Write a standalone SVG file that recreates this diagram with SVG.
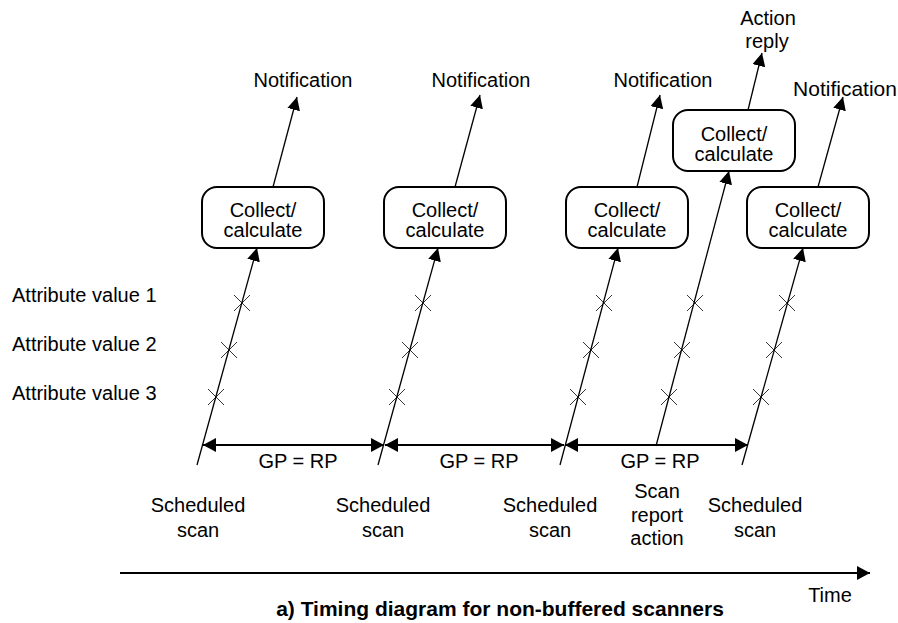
<svg xmlns="http://www.w3.org/2000/svg" width="898" height="623" viewBox="0 0 898 623">
<defs>
<marker id="ah" markerUnits="userSpaceOnUse" markerWidth="14" markerHeight="13" refX="13" refY="6.5" orient="auto-start-reverse" viewBox="0 0 14 13">
<path d="M0,0 L13,6.5 L0,13 z" fill="#000"/>
</marker>
<marker id="ahb" markerUnits="userSpaceOnUse" markerWidth="14" markerHeight="14" refX="13" refY="7" orient="auto-start-reverse" viewBox="0 0 14 14">
<path d="M0,0 L13,7 L0,14 z" fill="#000"/>
</marker>
</defs>
<style>
text{font-family:"Liberation Sans",Arial,sans-serif;font-size:20px;fill:#000}
.c{text-anchor:middle}
.t{font-weight:bold;font-size:21px}
.box{fill:#fff;stroke:#000;stroke-width:2}
.ln{stroke:#000;stroke-width:1.3;fill:none}
.arr{stroke:#000;stroke-width:1.3;fill:none;marker-end:url(#ah)}
.gp{stroke:#000;stroke-width:2.2;fill:none;marker-start:url(#ahb);marker-end:url(#ahb)}
.x{stroke:#000;stroke-width:0.8;fill:none}
</style>
<rect width="898" height="623" fill="#fff"/>
<g id="connectors">
<line class="arr" x1="197" y1="465" x2="257" y2="248"/>
<line class="arr" x1="378" y1="465" x2="438" y2="248"/>
<line class="arr" x1="560" y1="465" x2="618" y2="248"/>
<line class="arr" x1="656" y1="446" x2="729" y2="171"/>
<line class="arr" x1="742" y1="465" x2="803" y2="248"/>
<line class="arr" x1="273" y1="187" x2="297" y2="97"/>
<line class="arr" x1="455" y1="187" x2="480" y2="95"/>
<line class="arr" x1="637" y1="187" x2="660" y2="95"/>
<line class="arr" x1="748" y1="110" x2="762" y2="53"/>
<line class="arr" x1="818" y1="187" x2="843" y2="97"/>
<line class="gp" x1="203" y1="445" x2="384" y2="445"/>
<line class="gp" x1="385" y1="445" x2="564" y2="445"/>
<line class="gp" x1="565" y1="445" x2="748" y2="445"/>
<line stroke="#000" stroke-width="2.2" x1="120" y1="573" x2="870" y2="573" marker-end="url(#ahb)"/>
</g>
<g id="crosses">
<path class="x" d="M234,295 l16,16 M234,311 l16,-16 M221,342 l16,16 M221,358 l16,-16 M208,389 l16,16 M208,405 l16,-16"/>
<path class="x" d="M415,295 l16,16 M415,311 l16,-16 M402,342 l16,16 M402,358 l16,-16 M389,389 l16,16 M389,405 l16,-16"/>
<path class="x" d="M596,295 l16,16 M596,311 l16,-16 M583,342 l16,16 M583,358 l16,-16 M570,389 l16,16 M570,405 l16,-16"/>
<path class="x" d="M687,295 l16,16 M687,311 l16,-16 M674,342 l16,16 M674,358 l16,-16 M661,389 l16,16 M661,405 l16,-16"/>
<path class="x" d="M779,295 l16,16 M779,311 l16,-16 M766,342 l16,16 M766,358 l16,-16 M753,389 l16,16 M753,405 l16,-16"/>
</g>
<g id="box1"><rect class="box" x="202" y="187" width="122" height="61" rx="15"/><text class="c" x="263" y="217">Collect/</text><text class="c" x="263" y="237">calculate</text></g>
<g id="box2"><rect class="box" x="384" y="187" width="122" height="61" rx="15"/><text class="c" x="445" y="217">Collect/</text><text class="c" x="445" y="237">calculate</text></g>
<g id="box3"><rect class="box" x="566" y="187" width="122" height="61" rx="15"/><text class="c" x="627" y="217">Collect/</text><text class="c" x="627" y="237">calculate</text></g>
<g id="box4"><rect class="box" x="673" y="110" width="122" height="61" rx="15"/><text class="c" x="734" y="141">Collect/</text><text class="c" x="734" y="161">calculate</text></g>
<g id="box5"><rect class="box" x="747" y="187" width="122" height="61" rx="15"/><text class="c" x="808" y="217">Collect/</text><text class="c" x="808" y="237">calculate</text></g>
<g id="labels">
<text class="c" x="303" y="87">Notification</text>
<text class="c" x="481" y="87">Notification</text>
<text class="c" x="663" y="87">Notification</text>
<text class="c" x="845" y="96" style="font-size:21px">Notification</text>
<text class="c" x="768" y="25">Action</text>
<text class="c" x="767" y="48">reply</text>
<text x="12" y="302">Attribute value 1</text>
<text x="12" y="351">Attribute value 2</text>
<text x="12" y="400">Attribute value 3</text>
<text class="c" x="298" y="468">GP = RP</text>
<text class="c" x="479" y="468">GP = RP</text>
<text class="c" x="660" y="468">GP = RP</text>
<text class="c" x="198" y="512">Scheduled</text><text class="c" x="198" y="537">scan</text>
<text class="c" x="383" y="512">Scheduled</text><text class="c" x="383" y="537">scan</text>
<text class="c" x="550" y="512">Scheduled</text><text class="c" x="550" y="537">scan</text>
<text class="c" x="657" y="498">Scan</text><text class="c" x="657" y="522">report</text><text class="c" x="657" y="545">action</text>
<text class="c" x="755" y="512">Scheduled</text><text class="c" x="755" y="537">scan</text>
<text class="c" x="830" y="602">Time</text>
<text class="c t" x="500" y="616">a) Timing diagram for non-buffered scanners</text>
</g>
</svg>
